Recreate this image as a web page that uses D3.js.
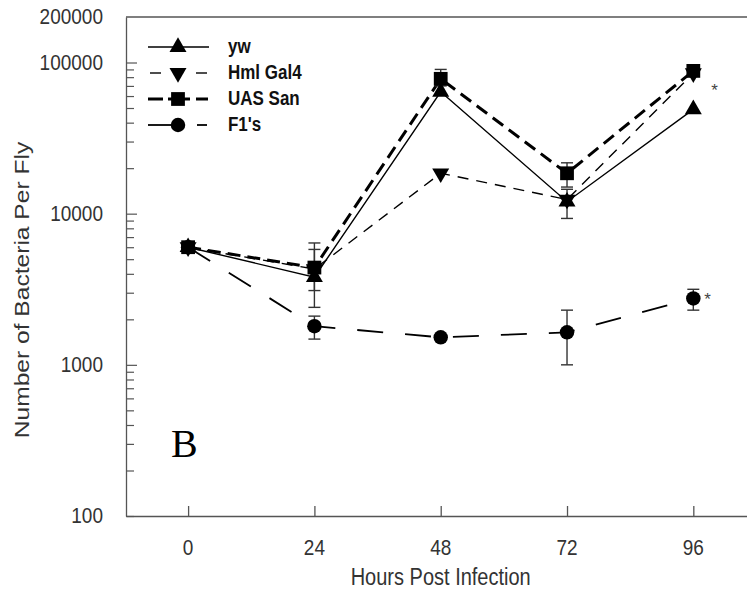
<!DOCTYPE html>
<meta charset="utf-8">
<script src="https://cdn.jsdelivr.net/npm/d3@7"></script>
<style>
  body { margin: 0; background: #fff; }
  text { font-family: "Liberation Sans", Arial, sans-serif; fill: #333; }
</style>
<body>
<script>

// data
var hours = [0, 24, 48, 72, 96]
var yw  = [6000, 3800, 64000, 12000, 49000]
var hml = [6000, 4300, 18500, 12400, 85000]
var uas = [6000, 4400, 78000, 18500, 88000]
var f1  = [6000, 1800, 1520, 1640, 2750]

// error bars [low, high], null where none is drawn
var ywErr  = [null, [2400, 6400], null, [9300, 14500], null]
var hmlErr = [null, null, null, null, null]
var uasErr = [null, [3100, 5800], [70000, 90000], [15000, 21700], null]
var f1Err  = [null, [1480, 2100], null, [1000, 2300], [2300, 3160]]

var yTickLabels = [100, 1000, 10000, 100000, 200000]
var seriesNames = ["yw", "Hml Gal4", "UAS San", "F1's"]
var starred = [{v: 88000, h: 96}, {v: 2750, h: 96}]

var width = 747
var height = 589

var x = d3.scaleLinear().domain([-11.8, 106.2]).range([126, 747])
var y = d3.scaleLog().domain([100, 200000]).range([516, 17])

var svg = d3.select("body").append("svg")
            .attr("width", width)
            .attr("height", height)

var series = [
  {name: seriesNames[0], vals: yw,  err: ywErr,  marker: "tri",  dash: null,    sw: 1.4},
  {name: seriesNames[1], vals: hml, err: hmlErr, marker: "dtri", dash: "11,8",  sw: 1.4},
  {name: seriesNames[2], vals: uas, err: uasErr, marker: "sq",   dash: "13,7",  sw: 3},
  {name: seriesNames[3], vals: f1,  err: f1Err,  marker: "circ", dash: "26,22", sw: 1.8}
]

function markerPath(type) {
  if (type == "tri") return d3.symbol().type(d3.symbolTriangle).size(125)()
  if (type == "dtri") return d3.symbol().type(d3.symbolTriangle).size(125)()
  if (type == "sq") return d3.symbol().type(d3.symbolSquare).size(190)()
  return d3.symbol().type(d3.symbolCircle).size(165)()
}
function markerTransform(type, px, py) {
  return "translate(" + px + "," + py + ")" + (type == "dtri" ? " rotate(180)" : "")
}

// frame: top line, left axis, bottom axis
svg.append("line").attr("x1", 126).attr("x2", 747).attr("y1", y(200000)).attr("y2", y(200000))
   .attr("stroke", "#555").attr("stroke-width", 1.3)

var gx = svg.append("g")
    .attr("transform", "translate(0," + y(100) + ")")
    .call(d3.axisTop(x).tickValues(hours).tickSize(10).tickSizeOuter(0).tickFormat(""))
gx.select(".domain").attr("stroke", "#555").attr("stroke-width", 1.3)
gx.selectAll(".tick line").attr("stroke", "#555").attr("stroke-width", 1.3)

var minor = []
for (var d = 100; d < 200000; d *= 10) for (var k = 1; k <= 9; k++) if (d*k < 200000) minor.push(d*k)
var gy = svg.append("g")
    .attr("transform", "translate(126,0)")
    .call(d3.axisRight(y).tickValues(minor).tickSize(8).tickSizeOuter(0).tickFormat(""))
gy.select(".domain").attr("stroke", "#555").attr("stroke-width", 1.3)
gy.selectAll(".tick line").attr("stroke", "#555").attr("stroke-width", 1.2)
  .attr("x2", function(v) { return [1000, 10000, 100000].indexOf(v) >= 0 ? 11 : 8 })

// tick labels (slightly tall, like the scanned figure)
yTickLabels.forEach(function(v) {
  svg.append("text")
     .attr("transform", "translate(103," + (y(v) + 7) + ") scale(1,1.15)")
     .style("text-anchor", "end").style("font-size", "19px")
     .text(v)
})
hours.forEach(function(h) {
  svg.append("text")
     .attr("transform", "translate(" + x(h) + ",555) scale(1,1.15)")
     .style("text-anchor", "middle").style("font-size", "19px")
     .text(h)
})

svg.append("text")
   .attr("transform", "translate(" + x(48) + ",585) scale(1,1.15)")
   .style("text-anchor", "middle").style("font-size", "20px")
   .text("Hours Post Infection")

svg.append("text")
   .attr("transform", "translate(29,290) rotate(-90) scale(1.2,1)")
   .style("text-anchor", "middle").style("font-size", "20.5px")
   .text("Number of Bacteria Per Fly")

// lines
var line = d3.line().x(function(d, i) { return x(hours[i]) }).y(function(d) { return y(d) })
series.forEach(function(s) {
  svg.append("path").attr("d", line(s.vals))
     .attr("fill", "none").attr("stroke", "#000")
     .attr("stroke-width", s.sw)
     .attr("stroke-dasharray", s.dash)
})

// error bars
series.forEach(function(s) {
  s.err.forEach(function(e, i) {
    if (!e) return
    var px = x(hours[i])
    var g = svg.append("g").attr("stroke", "#333").attr("stroke-width", 1.4)
    g.append("line").attr("x1", px).attr("x2", px).attr("y1", y(e[0])).attr("y2", y(e[1]))
    e.forEach(function(v) {
      g.append("line").attr("x1", px - 6).attr("x2", px + 6).attr("y1", y(v)).attr("y2", y(v))
    })
  })
})

// markers, squares last so they sit on top
;[3, 0, 1, 2].forEach(function(si) {
  var s = series[si]
  svg.append("g").selectAll("path").data(s.vals).join("path")
     .attr("d", markerPath(s.marker))
     .attr("transform", function(d, i) { return markerTransform(s.marker, x(hours[i]), y(d)) })
     .attr("fill", "#000")
})

// stars
starred.forEach(function(st, i) {
  svg.append("text")
     .attr("x", x(st.h) + (i == 0 ? 18 : 11)).attr("y", y(st.v) + (i == 0 ? 25 : 7))
     .style("font-size", "17px").style("fill", "#444")
     .text("*")
})

// legend: left and right line pieces around the marker
var legPieces = [
  [[148, 209]],
  [[150, 161], [196, 207]],
  [[148, 163], [168, 190], [196, 208]],
  [[148, 178], [197, 207]]
]
var leg = svg.append("g")
series.forEach(function(s, i) {
  var ly = 47 + i * 26
  legPieces[i].forEach(function(p) {
    leg.append("line").attr("x1", p[0]).attr("x2", p[1]).attr("y1", ly).attr("y2", ly)
       .attr("stroke", "#000").attr("stroke-width", s.sw)
  })
  leg.append("path").attr("d", markerPath(s.marker))
     .attr("transform", markerTransform(s.marker, 178, ly)).attr("fill", "#000")
  leg.append("text")
     .attr("transform", "translate(228," + (ly + 6) + ") scale(1,1.15)")
     .style("font-size", "17px").style("font-weight", "bold").style("fill", "#111")
     .text(s.name)
})

svg.append("text")
   .attr("x", 171).attr("y", 457)
   .style("font-family", "'Liberation Serif', 'Times New Roman', serif")
   .style("font-size", "40px").style("fill", "#000")
   .text("B")

</script>
</body>
